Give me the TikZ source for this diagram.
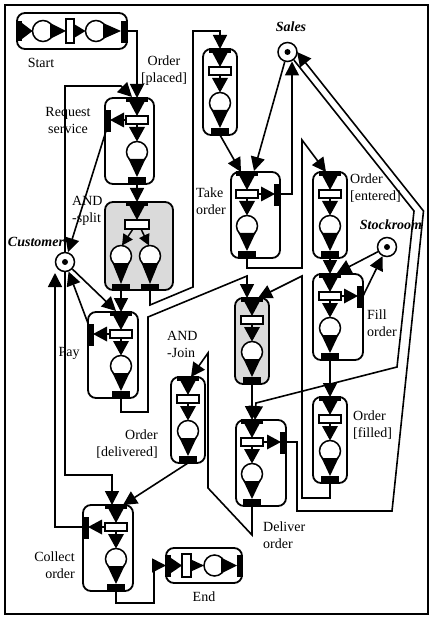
\documentclass[tikz,border=0pt]{standalone}
\usepackage{fontspec}
\setmainfont{Liberation Serif}
\usetikzlibrary{arrows.meta}
\definecolor{gfill}{RGB}{218,218,218}

\tikzset{
  box/.style={line width=1.8pt, rounded corners=8pt},
  trans/.style={draw, fill=white, line width=1.4pt},
  wire/.style={line width=1.6pt},
  conn/.style={line width=1.6pt, -{Triangle[length=14pt,width=14pt]}},
  small conn/.style={line width=1.5pt, -{Triangle[length=11pt,width=11pt]}},
  place/.style={circle, draw, line width=1.5pt, minimum size=19pt, inner sep=0pt, fill=white},
  lbl/.style={font=\fontsize{14}{17}\selectfont, inner sep=0pt, align=center},
  res/.style={lbl, font=\fontsize{14}{17}\selectfont\bfseries\itshape},
}

% vertical task block: name, column x, top y, left x, right x, fill colour
\newcommand{\vblock}[6]{%
  \draw[box, fill=#6] (#4,#3) rectangle (#5,#3+86);
  \fill (#2-11,#3-1) rectangle (#2+11,#3+4);
  \fill (#2-8,#3+3) -- (#2+8,#3+3) -- (#2,#3+18) -- cycle;
  \draw[trans] (#2-11,#3+18) rectangle (#2+11,#3+26);
  \draw[wire] (#2,#3+26) -- (#2,#3+31);
  \fill (#2-8,#3+29) -- (#2+8,#3+29) -- (#2,#3+43.5) -- cycle;
  \draw[line width=1.5pt, fill=white] (#2,#3+54) circle (10.5pt);
  \fill (#2-8.5,#3+61) -- (#2+8.5,#3+61) -- (#2,#3+79) -- cycle;
  \fill (#2-9,#3+79) rectangle (#2+9,#3+87);
  \coordinate (#1-top) at (#2,#3);
  \coordinate (#1-bot) at (#2,#3+86);
}
% output port on the right side: name, column x, top y, right x
\newcommand{\rport}[4]{%
  \draw[wire] (#2+11,#3+22) -- (#4-16,#3+22);
  \fill (#4-19,#3+14.5) -- (#4-19,#3+29.5) -- (#4-5,#3+22) -- cycle;
  \fill (#4-6,#3+12) rectangle (#4+1,#3+34);
  \coordinate (#1-side) at (#4,#3+22);
}
% output port on the left side: name, column x, top y, left x
\newcommand{\lport}[4]{%
  \draw[wire] (#2-11,#3+22) -- (#4+16,#3+22);
  \fill (#4+19,#3+14.5) -- (#4+19,#3+29.5) -- (#4+5,#3+22) -- cycle;
  \fill (#4-1,#3+12) rectangle (#4+6,#3+34);
  \coordinate (#1-side) at (#4,#3+22);
  \coordinate (#1-sidehi) at (#4+1,#3+14);
  \coordinate (#1-sidelo) at (#4+1,#3+33);
}

\begin{document}
\begin{tikzpicture}[x=1pt, y=-1pt]
\fill[white] (0,0) rectangle (431,617);
\useasboundingbox (0,0) rectangle (431,617);
\draw[line width=1.5pt] (5,5) rectangle (428,614);

% ---- Start ----
\draw[box] (17,13) rectangle (127,49);
\fill (16,21) rectangle (22,41);
\fill (22,23) -- (22,39) -- (32.5,31) -- cycle;
\draw[line width=1.5pt, fill=white] (43,31) circle (10.5pt);
\fill (50,23) -- (50,39) -- (66,31) -- cycle;
\draw[trans] (66,19) rectangle (74,43);
\fill (74,24) -- (74,38) -- (85.5,31) -- cycle;
\draw[line width=1.5pt, fill=white] (96,31) circle (10.5pt);
\fill (103,23) -- (103,39) -- (121,31) -- cycle;
\fill (121,21) rectangle (128,43);
\coordinate (start-out) at (127,31);

% ---- End ----
\draw[box] (166,548) rectangle (242,583);
\fill (165,555) rectangle (171,577);
\fill (171,558) -- (171,573) -- (182,565.5) -- cycle;
\draw[trans] (182,554) rectangle (191,577);
\fill (191,559.5) -- (191,571.5) -- (204,565.5) -- cycle;
\draw[line width=1.5pt, fill=white] (214.5,565.5) circle (10.5pt);
\fill (221,557.5) -- (221,573.5) -- (237,565.5) -- cycle;
\fill (237,555) rectangle (243,577);
\coordinate (end-in) at (166,565.5);

% ---- AND-split ----
\draw[box, fill=gfill] (105,202) rectangle (173,290);
\fill (126,201) rectangle (148,206);
\fill (129,205) -- (145,205) -- (137,220) -- cycle;
\draw[trans] (125,220) rectangle (149,229);
\draw[small conn] (133,229) -- (122,245.5);
\draw[small conn] (141,229) -- (149,245.5);
\draw[line width=1.5pt, fill=white] (121,256) circle (10.5pt);
\draw[line width=1.5pt, fill=white] (150,256) circle (10.5pt);
\fill (112.5,263) -- (129.5,263) -- (121,284) -- cycle;
\fill (141.5,263) -- (158.5,263) -- (150,284) -- cycle;
\fill (112,284) rectangle (130,291);
\fill (141,284) rectangle (159,291);
\coordinate (and-top) at (137,202);
\coordinate (and-botL) at (121,290);
\coordinate (and-botR) at (150,290);

% ---- task blocks ----
\vblock{rs}{137}{98}{105}{154}{white}   \lport{rs}{137}{98}{105}
\vblock{u1}{220}{49}{203}{237}{white}
\vblock{to}{247}{172}{231}{280}{white}  \rport{to}{247}{172}{280}
\vblock{oe}{330}{172}{313}{347}{white}
\vblock{fo}{330}{274}{313}{363}{white}  \rport{fo}{330}{274}{363}
\vblock{pay}{121}{312}{88}{138}{white}  \lport{pay}{121}{312}{88}
\vblock{g2}{252}{298}{235}{269}{gfill}
\vblock{od}{188}{377}{171}{205}{white}
\vblock{of}{330}{397}{313}{347}{white}
\vblock{do}{252}{420}{236}{286}{white}  \rport{do}{252}{420}{286}
\vblock{co}{116}{505}{83}{133}{white}   \lport{co}{116}{505}{83}

% ---- resource places ----
\node[place] (cust) at (65,262) {};
\node[place] (sales) at (287.5,52) {};
\node[place] (stock) at (387,247) {};
\fill (cust) circle (3pt);
\fill (sales) circle (3pt);
\fill (stock) circle (3pt);

% ---- arc end points ----
\coordinate (rs-topL) at (132,97);
\coordinate (to-topL) at (241,172);
\coordinate (to-topR) at (254,171);
\coordinate (sales-in) at (292,61.5);
\coordinate (sales-ret) at (297,52);
\coordinate (oe-topL) at (326,172);
\coordinate (g2-topL) at (247,298);
\coordinate (g2-topR) at (258,298);
\coordinate (do-topR) at (255,420);
\coordinate (od-topR) at (191,377);
\coordinate (co-topL) at (112,505);
\coordinate (co-topR) at (123,505);
\coordinate (cust-in) at (55,273);
\coordinate (pay-topL) at (116,311);
\coordinate (fo-topR) at (337,273);

% ---- arcs ----
\draw[conn] (start-out) -| (rs-top);
\draw[conn] (cust) -- (65,86) -- (121,86) -- (rs-topL);
\draw[conn] (rs-bot) -- (and-top);
\draw[conn] (rs-sidelo) -- (cust);
\draw[conn] (and-botL) -- (pay-top);
\draw[conn] (and-botR) -- (150,305) -- (193,287) -- (193,31) -- (220,31) -- (u1-top);
\draw[conn] (u1-bot) -- (to-topL);
\draw[conn] (sales) -- (to-topR);
\draw[conn] (to-side) -- (292,194) -- (sales-in);
\draw[conn] (to-bot) -- (247,268) -- (302,268) -- (302,140) -- (oe-topL);
\draw[conn] (oe-bot) -- (fo-top);
\draw[conn] (stock) -- (fo-topR);
\draw[conn] (fo-side) -- (stock);
\draw[conn] (fo-bot) -- (of-top);
\draw[conn] (of-bot) -- (330,498) -- (302,498) -- (302,276) -- (g2-topR);
\draw[conn] (pay-bot) -- (121,412) -- (148,412) -- (148,317) -- (247,276) -- (g2-topL);
\draw[conn] (g2-bot) -- (do-top);
\draw[conn] (sales) -- (414,211) -- (397,367) -- (256,403) -- (do-topR);
\draw[conn] (do-side) -- (297,442) -- (297,511) -- (392,511) -- (423.5,211) -- (sales-ret);
\draw[conn] (do-bot) -- (252,535) -- (208,488) -- (208,353) -- (od-topR);
\draw[conn] (od-bot) -- (co-topR);
\draw[conn] (cust) -- (65,475) -- (112,475) -- (co-topL);
\draw[conn] (co-side) -- (55,527) -- (cust-in);
\draw[conn] (cust) -- (pay-topL);
\draw[conn] (pay-sidehi) -- (cust);
\draw[conn] (co-bot) -- (116,603) -- (154,603) -- (154,565.5) -- (end-in);

% ---- labels ----
\node[lbl] (l-start) at (41,63) {Start};
\node[lbl] (l-placed) at (164,71) {Order\\{[}placed{]}};
\node[lbl] (l-req) at (68,120) {Request\\service};
\node[lbl, align=left, anchor=west] (l-split) at (72,211) {AND\\-split};
\node[res] (l-cust) at (36,242) {Customer};
\node[res] (l-sales) at (291,27) {Sales};
\node[lbl, align=left, anchor=west] (l-take) at (196,201) {Take\\order};
\node[lbl, align=left, anchor=west] (l-entered) at (350,188.5) {Order\\{[}entered{]}};
\node[res] (l-stock) at (391,225) {Stockroom};
\node[lbl, align=left, anchor=west] (l-fill) at (367,323) {Fill\\order};
\node[lbl] (l-pay) at (69,353) {Pay};
\node[lbl, align=left, anchor=west] (l-join) at (167,344.5) {AND\\-Join};
\node[lbl, align=right, anchor=east] (l-delivered) at (158,444) {Order\\{[}delivered{]}};
\node[lbl, align=left, anchor=west] (l-filled) at (353,425.5) {Order\\{[}filled{]}};
\node[lbl, align=left, anchor=west] (l-deliver) at (263,535) {Deliver\\order};
\node[lbl, align=right, anchor=east] (l-collect) at (75,565.5) {Collect\\order};
\node[lbl] (l-end) at (204,597) {End};
\end{tikzpicture}
\end{document}
